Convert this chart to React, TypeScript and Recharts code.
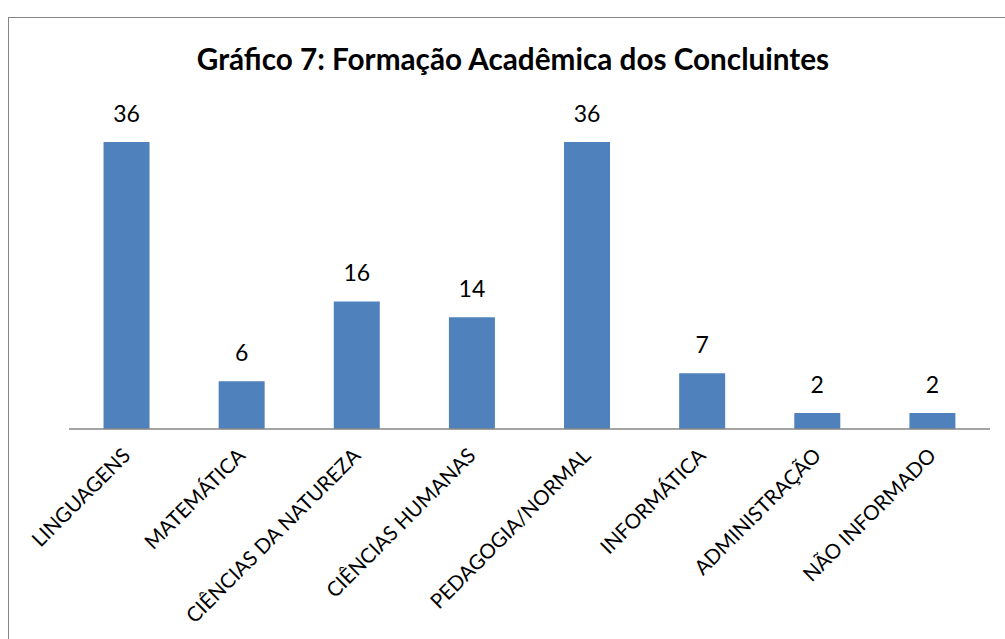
import React from "react";
import { BarChart, Bar, XAxis, YAxis, LabelList } from "recharts";

const categories = [
  "LINGUAGENS",
  "MATEMÁTICA",
  "CIÊNCIAS DA NATUREZA",
  "CIÊNCIAS HUMANAS",
  "PEDAGOGIA/NORMAL",
  "INFORMÁTICA",
  "ADMINISTRAÇÃO",
  "NÃO INFORMADO",
];
const values = [36, 6, 16, 14, 36, 7, 2, 2];
const title = "Gráfico 7: Formação Acadêmica dos Concluintes";

const data = categories.map((c, i) => ({ name: c, value: values[i] }));

const FONT = "Lato, 'Open Sans', sans-serif";

const Tick = (props: any) => {
  const { x, y, payload } = props;
  return (
    <g transform={`translate(${x + 5},${y + 20})`}>
      <text
        textAnchor="end"
        transform="rotate(-45)"
        fontFamily={FONT}
        fontSize={20.5}
        fill="#000"
      >
        {payload.value}
      </text>
    </g>
  );
};

export default function App() {
  return (
    <div
      style={{
        position: "fixed",
        left: 0,
        top: 0,
        width: 1005,
        height: 639,
        background: "#fff",
        overflow: "hidden",
      }}
    >
      <div
        style={{
          position: "absolute",
          left: 8,
          top: 17,
          width: 1100,
          height: 700,
          borderLeft: "1.5px solid #868686",
          borderTop: "1.5px solid #868686",
        }}
      />
      <div
        style={{
          position: "absolute",
          left: 0,
          top: 39,
          width: 1026,
          textAlign: "center",
          fontFamily: FONT,
          fontWeight: 700,
          fontSize: 29.7,
          color: "#000",
          lineHeight: "40px",
        }}
      >
        {title}
      </div>
      <div style={{ position: "absolute", left: 0, top: 0 }}>
        <BarChart
          width={1005}
          height={639}
          data={data}
          margin={{ top: 110, right: 15, bottom: 0, left: 69 }}
          barCategoryGap="30%"
        >
          <YAxis hide domain={[0, 40]} ticks={[0, 10, 20, 30, 40]} />
          <XAxis
            dataKey="name"
            axisLine={{ stroke: "#868686", strokeWidth: 1.5 }}
            tickLine={false}
            interval={0}
            tick={<Tick />}
            height={210}
          />
          <Bar dataKey="value" fill="#4F81BD" isAnimationActive={false}>
            <LabelList
              dataKey="value"
              position="top"
              offset={20}
              fontFamily={FONT}
              fontSize={23}
              fill="#000"
            />
          </Bar>
        </BarChart>
      </div>
    </div>
  );
}
